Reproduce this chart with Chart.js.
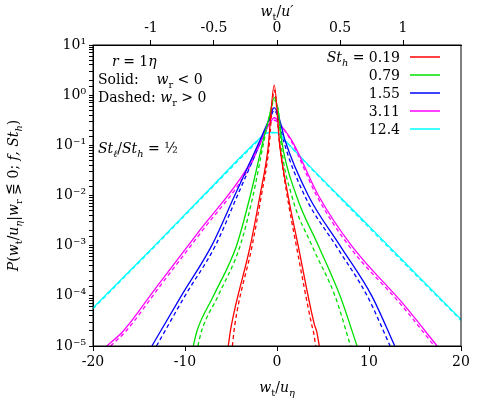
<!DOCTYPE html>
<html><head><meta charset="utf-8">
<script src="https://cdn.jsdelivr.net/npm/chart.js@4/dist/chart.umd.min.js"></script>
<style>body{margin:0;background:#fff}#wrap{width:494px;height:402px}</style>
</head><body><div id="wrap"><canvas id="c"></canvas></div>
<script>
// St_h values and colours
const stLabels = ['0.19', '0.79', '1.55', '3.11', '12.4'];
const colors = ['#ff0000', '#00e000', '#0000ff', '#ff00ff', '#00ffff'];

// x = w_t/u_eta, y = log10 P ; solid: w_r < 0, dashed (d): w_r > 0
const redX = [-5.3, -5.0, -2.9, -1.85, -1.0, -0.3, 0.3, 1.2, 2.3, 4.06, 4.3, 4.6];
const redY = [-5, -4.63, -3, -2, -1.1, 0.2, -1.0, -2, -3, -4.57, -4.7, -5];
const redXd = [-4.85, -4.6, -2.7, -1.7, -0.9, -0.3, 0.3, 1.1, 2.1, 3.8, 4.0, 4.2];
const redYd = [-5, -4.6, -3, -2, -1.1, 0.1, -1.0, -2, -3, -4.6, -4.75, -5];

const greenX = [-9.1, -8.7, -6.9, -4.4, -2.9, -1.5, -0.8, -0.3, 0.2, 0.5, 2.1, 4.5, 6.85, 8.7];
const greenY = [-5, -4.7, -4, -3, -2, -0.9, -0.4, -0.05, -0.4, -0.9, -2, -3, -4, -5];
const greenXd = [-8.6, -8.2, -6.4, -4.0, -2.6, -1.4, -0.8, -0.3, 0.2, 0.4, 1.6, 3.8, 6.3, 8.0];
const greenYd = [-5, -4.7, -4, -3, -2, -0.9, -0.4, -0.1, -0.4, -0.9, -2, -3, -4, -5];

const blueX = [-13.6, -10.4, -7.1, -4.6, -1.85, -0.9, -0.3, 0.3, 0.87, 3.4, 6.85, 10.3, 12.8];
const blueY = [-5, -4, -3, -2, -0.9, -0.5, -0.25, -0.5, -0.9, -2, -3, -4, -5];
const blueXd = [-13.1, -10.0, -6.7, -4.3, -1.7, -0.8, -0.3, 0.2, 0.7, 3.0, 6.4, 9.8, 12.3];
const blueYd = [-5, -4, -3, -2, -0.9, -0.5, -0.3, -0.5, -0.9, -2, -3, -4, -5];

const magX = [-18.5, -16.7, -13, -8.5, -3.3, -2.0, -0.9, -0.3, 0.4, 1.6, 4.5, 8.1, 13.9, 17.4];
const magY = [-5, -4.7, -3.8, -2.72, -1.47, -1.0, -0.6, -0.45, -0.6, -0.9, -2, -3, -4.2, -5];
const magXd = [-18.1, -16.4, -12.7, -8.2, -3.1, -1.9, -0.9, -0.3, 0.4, 1.5, 4.3, 7.8, 13.6, 17.1];
const magYd = [-5, -4.7, -3.8, -2.72, -1.47, -1.0, -0.6, -0.5, -0.6, -0.9, -2, -3, -4.2, -5];

const cyanX = [-20, -13.3, -8, -2.1, -1.2, -0.5, 0.2, 0.87, 10, 20];
const cyanY = [-4.24, -3, -2, -0.9, -0.76, -0.74, -0.76, -0.9, -2.61, -4.47];
const cyanXd = [-20, -13.2, -7.9, -2.0, -1.2, -0.5, 0.2, 0.85, 9.9, 20];
const cyanYd = [-4.26, -3, -2, -0.9, -0.76, -0.75, -0.76, -0.9, -2.62, -4.49];

const solid = [[redX, redY], [greenX, greenY], [blueX, blueY], [magX, magY], [cyanX, cyanY]];
const dashed = [[redXd, redYd], [greenXd, greenYd], [blueXd, blueYd], [magXd, magYd], [cyanXd, cyanYd]];

const bottomTicks = [-20, -10, 0, 10, 20];
const topTicks = [-1, -0.5, 0, 0.5, 1];
const topScale = 13.7; // w_t/u' = (w_t/u_eta) / topScale
const sup = {'-': '⁻', '0': '⁰', '1': '¹', '2': '²', '3': '³', '4': '⁴', '5': '⁵'};

const pts = (xs, ys) => xs.map((x, i) => ({x: x, y: Math.pow(10, ys[i])}));
const datasets = [];
solid.forEach((s, i) => datasets.push({data: pts(s[0], s[1]), borderColor: colors[i], borderWidth: 1.3, pointRadius: 0, cubicInterpolationMode: 'monotone'}));
dashed.forEach((s, i) => datasets.push({data: pts(s[0], s[1]), borderColor: colors[i], borderWidth: 1.3, borderDash: [4, 3], pointRadius: 0, cubicInterpolationMode: 'monotone'}));

const F = '"DejaVu Serif", "Liberation Serif", serif';

// texto con subíndice
function sub(ctx, x, y, parts, size, align) {
  let w = 0;
  parts.forEach(p => { ctx.font = (p[2] ? 'italic ' : '') + (p[1] ? size * 0.7 : size) + 'px ' + F; w += ctx.measureText(p[0]).width; });
  let cx = align === 'right' ? x - w : align === 'center' ? x - w / 2 : x;
  parts.forEach(p => {
    ctx.font = (p[2] ? 'italic ' : '') + (p[1] ? size * 0.7 : size) + 'px ' + F;
    ctx.fillText(p[0], cx, y + (p[1] ? size * 0.3 : 0));
    cx += ctx.measureText(p[0]).width;
  });
}

const annot = {
  id: 'annot',
  afterDraw(chart) {
    const ctx = chart.ctx, a = chart.chartArea;
    ctx.save();
    ctx.fillStyle = '#000';
    ctx.textBaseline = 'alphabetic';
    sub(ctx, 112, 66, [['r', 0, 1], [' = 1', 0, 0], ['η', 0, 1]], 14);
    sub(ctx, 98, 84, [['Solid:', 0, 0], ['    w', 0, 1], ['r', 1, 0], [' < 0', 0, 0]], 14);
    sub(ctx, 98, 102, [['Dashed: ', 0, 0], ['w', 0, 1], ['r', 1, 0], [' > 0', 0, 0]], 14);
    sub(ctx, 98, 153, [['St', 0, 1], ['ℓ', 1, 1], ['/', 0, 0], ['St', 0, 1], ['h', 1, 1], [' = ½', 0, 0]], 14);
    // legend
    stLabels.forEach((l, i) => {
      const y = 62 + i * 18;
      if (i === 0) sub(ctx, 400, y, [['St', 0, 1], ['h', 1, 1], [' = 0.19', 0, 0]], 14, 'right');
      else sub(ctx, 400, y, [[l, 0, 0]], 14, 'right');
      ctx.strokeStyle = colors[i]; ctx.lineWidth = 1.5;
      ctx.beginPath(); ctx.moveTo(410, y - 5); ctx.lineTo(440, y - 5); ctx.stroke();
    });
    // axis titles
    sub(ctx, 277, 392, [['w', 0, 1], ['t', 1, 0], ['/', 0, 0], ['u', 0, 1], ['η', 1, 1]], 14, 'center');
    sub(ctx, 277, 16, [['w', 0, 1], ['t', 1, 0], ['/', 0, 0], ['u′', 0, 1]], 14, 'center');
    ctx.translate(18, (a.top + a.bottom) / 2); ctx.rotate(-Math.PI / 2);
    sub(ctx, 0, 0, [['P', 0, 1], ['(', 0, 0], ['w', 0, 1], ['t', 1, 0], ['/', 0, 0], ['u', 0, 1], ['η', 1, 1], ['|', 0, 0], ['w', 0, 1], ['r', 1, 0], [' ⋚ 0; ', 0, 0], ['f, St', 0, 1], ['h', 1, 1], [')', 0, 0]], 14, 'center');
    ctx.restore();
    ctx.strokeStyle = '#000'; ctx.lineWidth = 1;
    ctx.strokeRect(a.left, a.top, a.right - a.left, a.bottom - a.top);
  }
};

new Chart(document.getElementById('c'), {
  type: 'line',
  data: {datasets: datasets},
  options: {
    responsive: true, maintainAspectRatio: false, animation: false,
    layout: {padding: {left: 0, right: 33, top: 0, bottom: 0}},
    plugins: {legend: {display: false}, tooltip: {enabled: false}},
    scales: {
      x: {
        type: 'linear', min: -20, max: 20,
        afterFit: s => { s.height = 56; },
        afterBuildTicks: s => { s.ticks = bottomTicks.map(v => ({value: v})); },
        grid: {drawOnChartArea: false, color: '#000', tickLength: 5},
        border: {color: '#000'},
        ticks: {color: '#000', font: {family: F, size: 14}, maxRotation: 0}
      },
      x2: {
        type: 'linear', position: 'top', min: -20 / topScale, max: 20 / topScale,
        afterFit: s => { s.height = 45; },
        afterBuildTicks: s => { s.ticks = topTicks.map(v => ({value: v})); },
        grid: {drawOnChartArea: false, color: '#000', tickLength: 5},
        border: {color: '#000'},
        ticks: {color: '#000', font: {family: F, size: 14}, maxRotation: 0, callback: v => v}
      },
      y: {
        type: 'logarithmic', min: 1e-5, max: 10,
        afterFit: s => { s.width = 93; },
        grid: {drawOnChartArea: false, color: '#000', tickLength: 4},
        border: {color: '#000'},
        ticks: {
          color: '#000', font: {family: F, size: 14}, autoSkip: false,
          callback: v => {
            const e = Math.log10(v);
            if (Math.abs(e - Math.round(e)) > 1e-6) return '';
            return '10' + String(Math.round(e)).split('').map(c => sup[c]).join('');
          }
        }
      }
    }
  },
  plugins: [annot]
});
</script></body></html>
